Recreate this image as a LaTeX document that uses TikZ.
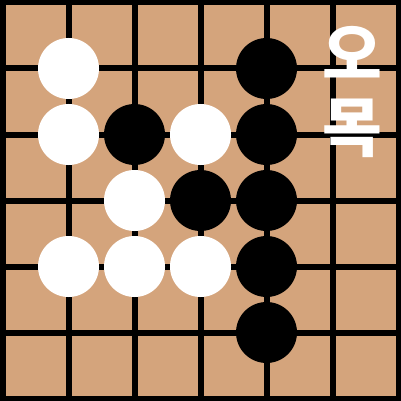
\documentclass[tikz,border=0pt]{standalone}
\usepackage{fontspec}
\newfontfamily\krfont{Noto Sans CJK KR}
\definecolor{board}{RGB}{212,164,124}
\tikzset{
  gridline/.style={line width=6pt, black},
  whitestone/.style={fill=white},
  blackstone/.style={fill=black},
  label/.style={text=white, font=\krfont\bfseries\fontsize{65}{65}\selectfont, inner sep=0pt}
}
\begin{document}
\begin{tikzpicture}[x=1pt,y=-1pt]
\useasboundingbox (0,0) rectangle (401,401);
\fill[board] (0,0) rectangle (401,401);
\foreach \i in {0,...,6} {
  \draw[gridline] ({2.5+66*\i},-5) -- ({2.5+66*\i},406);
  \draw[gridline] (-5,{2.5+66*\i}) -- (406,{2.5+66*\i});
}
% white stones
\foreach \c/\r in {1/1, 1/2, 3/2, 2/3, 1/4, 2/4, 3/4} {
  \fill[whitestone] ({2.5+66*\c},{2.5+66*\r}) circle (30.5);
}
% black stones
\foreach \c/\r in {4/1, 2/2, 4/2, 3/3, 4/3, 4/4, 4/5} {
  \fill[blackstone] ({2.5+66*\c},{2.5+66*\r}) circle (30.5);
}
\node[label] (o) at (352.5,52) {오};
\node[label] (mok) at (352.5,128.5) {목};
\end{tikzpicture}
\end{document}
